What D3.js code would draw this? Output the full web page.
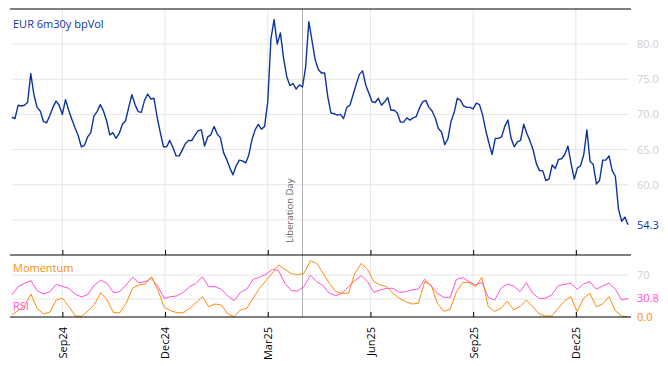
<!DOCTYPE html>
<html>
<head>
<meta charset="utf-8">
<script src="https://d3js.org/d3.v7.min.js"></script>
<style>
  body { margin: 0; background: #fff; }
  svg { display: block; font-family: "Open Sans", sans-serif; }
</style>
</head>
<body>
<script>
// EUR 6m30y normal vol (bp), one value every 2 business days from 18 Jul 2024
var volValues = [
  69.6, 69.4, 71.3, 71.2, 71.3, 71.7, 75.8, 72.8, 71.0, 70.5,
  69.0, 68.8, 69.8, 71.0, 71.9, 71.3, 70.0, 72.1, 70.6, 69.3,
  68.1, 67.0, 65.4, 65.6, 66.8, 67.4, 69.8, 70.4, 71.4, 70.5,
  69.1, 67.1, 67.4, 66.6, 67.3, 68.6, 69.1, 71.0, 72.8, 71.4,
  70.4, 70.3, 72.0, 72.9, 72.2, 72.3, 69.6, 67.4, 65.4, 65.4,
  66.3, 65.3, 64.1, 64.1, 65.0, 65.9, 66.3, 66.3, 67.1, 67.7,
  67.8, 65.5, 66.8, 67.1, 68.3, 67.2, 66.7, 64.6, 63.6, 62.4,
  61.4, 62.7, 63.5, 63.4, 63.1, 64.2, 66.4, 67.8, 68.6, 67.9,
  68.3, 71.8, 80.7, 83.5, 80.0, 81.6, 78.0, 75.4, 74.1, 74.4,
  73.6, 74.2, 73.9, 76.8, 83.2, 80.5, 77.8, 76.4, 75.9, 75.9,
  72.5, 70.2, 70.1, 69.9, 70.0, 69.4, 71.0, 71.3, 72.8, 74.3,
  75.7, 76.2, 74.2, 73.0, 71.8, 71.7, 72.3, 71.3, 71.8, 72.4,
  70.6, 70.6, 70.2, 68.9, 68.9, 69.5, 69.2, 69.5, 69.7, 70.9,
  71.8, 72.0, 71.0, 70.5, 69.5, 68.0, 67.5, 65.7, 66.5, 69.0,
  70.3, 72.3, 72.0, 71.2, 71.0, 71.0, 70.8, 71.6, 71.4, 69.9,
  67.7, 65.9, 64.3, 66.6, 66.6, 66.8, 68.3, 69.2, 66.6, 65.4,
  66.1, 66.3, 68.6, 67.3, 66.2, 64.9, 63.0, 62.0, 62.0, 60.6,
  60.8, 62.8, 62.3, 63.6, 63.7, 64.3, 65.5, 63.0, 60.8, 62.4,
  62.7, 64.3, 67.8, 63.3, 62.9, 60.1, 60.6, 63.5, 63.5, 64.1,
  62.0, 61.2, 56.5, 54.8, 55.4, 54.3
];

// RSI and momentum, spread evenly over the same period
var rsiValues = [
  36.7, 50.6, 56.1, 60.6, 43.9, 38.3, 42.2, 54.4, 50.6, 47.8,
  37.8, 33.3, 37.8, 53.3, 61.1, 56.1, 40.6, 42.2, 53.3, 66.1,
  57.2, 58.9, 64.4, 50.6, 31.1, 33.9, 35.0, 41.1, 50.6, 56.1,
  67.2, 50.6, 50.6, 46.1, 35.0, 27.2, 41.1, 46.7, 62.8, 66.1,
  71.1, 79.4, 77.2, 56.1, 43.9, 43.3, 50.6, 70.0, 58.9, 52.2,
  39.4, 35.6, 39.4, 50.6, 60.6, 68.9, 58.9, 41.1, 45.0, 47.8,
  47.8, 41.1, 42.2, 45.0, 46.7, 62.8, 51.7, 39.4, 32.8, 32.8,
  62.8, 65.6, 58.9, 53.3, 57.8, 32.8, 28.3, 47.8, 55.0, 51.7,
  42.2, 57.2, 39.4, 31.1, 31.1, 36.7, 52.2, 54.4, 56.1, 46.1,
  55.0, 58.9, 46.1, 51.7, 56.1, 46.1, 28.3, 30.8
];
var momValues = [
  3.3, 10.6, 18.3, 38.3, 14.4, 5.0, 8.3, 28.3, 31.1, 17.2,
  1.7, 1.1, 10.0, 21.1, 40.6, 28.3, 7.2, 7.2, 22.8, 47.8,
  53.3, 55.0, 67.2, 45.0, 16.1, 10.6, 7.2, 7.2, 14.4, 23.9,
  33.9, 17.2, 21.7, 20.0, 5.0, 0.6, 11.7, 14.4, 31.7, 47.8,
  60.6, 72.8, 86.7, 79.4, 72.2, 70.6, 72.8, 93.9, 89.4, 72.8,
  56.1, 42.2, 39.4, 39.4, 72.8, 89.4, 79.4, 58.9, 53.3, 50.6,
  39.4, 31.1, 25.6, 21.7, 22.8, 58.9, 53.3, 22.8, 9.4, 12.8,
  42.2, 57.8, 57.2, 50.6, 66.1, 17.2, 9.4, 14.4, 26.7, 11.7,
  17.2, 28.3, 17.2, 5.0, 1.7, 1.7, 14.4, 26.7, 33.9, 8.9,
  31.1, 39.4, 17.2, 21.7, 33.9, 10.6, 1.7, 0.0
];

var startDate = '2024-07-18';
var tickLabels = ['Sep24', 'Dec24', 'Mar25', 'Jun25', 'Sep25', 'Dec25'];
var tickMonths = ['2024-09-01', '2024-12-01', '2025-03-01', '2025-06-01', '2025-09-01', '2025-12-01'];
var volTicks = [55, 60, 65, 70, 75, 80];
var volLabelTicks = [60, 65, 70, 75, 80];   // 55.0 sits under the last value
var oscTicks = [30, 70];
var oscLabelTicks = [70];                   // 30 sits under the RSI last value
var eventDate = '2025-04-02', eventLabel = 'Liberation Day';

var width = 668, height = 366;
var left = 10, right = 631;
var blue = '#0b34a0', orange = '#ff8c0a', pink = '#ff4fd8', lightGrey = '#cfcfcf', grid = '#e6e6e6';

var parse = d3.timeParse('%Y-%m-%d');

// business-day calendar: the x axis skips weekends
var nDays = (volValues.length - 1) * 2;
var days = [];
var d = parse(startDate);
while (days.length <= nDays) {
  if (d.getDay() !== 0 && d.getDay() !== 6) days.push(d);
  d = d3.timeDay.offset(d, 1);
}
function dayIndex(s) { return d3.bisectLeft(days, parse(s)); }

var x = d3.scaleLinear().domain([0, nDays]).range([11.8, 628]);
var yVol = d3.scaleLinear().domain([50, 85]).range([255, 9]);
var yOsc = d3.scaleLinear().domain([0, 103.3]).range([317, 255]);

var tickIdx = tickMonths.map(dayIndex);

var svg = d3.select('body').append('svg')
  .attr('width', width)
  .attr('height', height);

// gridlines
svg.append('g').selectAll('line')
  .data(volTicks)
  .join('line')
    .attr('x1', 12).attr('x2', 629)
    .attr('y1', function (v) { return yVol(v); })
    .attr('y2', function (v) { return yVol(v); })
    .attr('stroke', grid);
svg.append('g').selectAll('line')
  .data(oscTicks)
  .join('line')
    .attr('x1', 12).attr('x2', 629)
    .attr('y1', function (v) { return yOsc(v); })
    .attr('y2', function (v) { return yOsc(v); })
    .attr('stroke', grid);
svg.append('g').selectAll('line')
  .data(tickIdx)
  .join('line')
    .attr('x1', function (i) { return x(i); })
    .attr('x2', function (i) { return x(i); })
    .attr('y1', 9).attr('y2', 317)
    .attr('stroke', grid);

// event marker
var ex = x(dayIndex(eventDate));
svg.append('line')
  .attr('x1', ex).attr('x2', ex)
  .attr('y1', 9).attr('y2', 317)
  .attr('stroke', '#b0b0b0');
svg.append('text')
  .attr('transform', 'translate(' + (ex - 13) + ',243) rotate(-90)')
  .attr('dy', '0.35em')
  .style('font-size', '9.5px')
  .attr('fill', '#666')
  .text(eventLabel);

// series
var volLine = d3.line()
  .x(function (v, i) { return x(i * 2); })
  .y(function (v) { return yVol(v); });
var oscStep = nDays / (rsiValues.length - 1);
var oscLine = d3.line()
  .x(function (v, i) { return x(i * oscStep); })
  .y(function (v) { return yOsc(v); });

svg.append('path').datum(volValues)
  .attr('d', volLine)
  .attr('fill', 'none').attr('stroke', blue).attr('stroke-width', 1.4)
  .attr('stroke-linejoin', 'round');
svg.append('path').datum(rsiValues)
  .attr('d', oscLine)
  .attr('fill', 'none').attr('stroke', pink).attr('stroke-width', 1);
svg.append('path').datum(momValues)
  .attr('d', oscLine)
  .attr('fill', 'none').attr('stroke', orange).attr('stroke-width', 1);

// frame lines
[9, 255, 317].forEach(function (yy) {
  svg.append('line')
    .attr('x1', left).attr('x2', right)
    .attr('y1', yy).attr('y2', yy)
    .attr('stroke', '#000');
});

// x axes: inward ticks on both panels, labels under the lower one
function xAxis(y0, withLabels) {
  var ax = d3.axisBottom(x)
    .tickValues(tickIdx)
    .tickSizeInner(-5).tickSizeOuter(0)
    .tickFormat(function (v, i) { return withLabels ? tickLabels[i] : ''; });
  var g = svg.append('g').attr('transform', 'translate(0,' + y0 + ')').call(ax);
  g.select('.domain').remove();
  g.selectAll('line').attr('stroke', '#000');
  g.selectAll('text')
    .attr('transform', 'rotate(-90)')
    .attr('text-anchor', 'end')
    .attr('x', -10).attr('y', 0).attr('dy', '0.35em')
    .attr('fill', '#000')
    .style('font-family', '"Open Sans", sans-serif')
    .style('font-size', '11px');
}
xAxis(255, false);
xAxis(317, true);

// right-hand value labels
function yAxis(scale, ticks, fmt) {
  var g = svg.append('g').attr('transform', 'translate(631,0)')
    .call(d3.axisRight(scale).tickValues(ticks).tickSize(0).tickPadding(6).tickFormat(fmt));
  g.select('.domain').remove();
  g.selectAll('text')
    .attr('fill', lightGrey)
    .style('font-family', '"Open Sans", sans-serif')
    .style('font-size', '11px');
}
yAxis(yVol, volLabelTicks, d3.format('.1f'));
yAxis(yOsc, oscLabelTicks, d3.format('d'));

// last values
var lastLabels = [
  { y: yVol(volValues[volValues.length - 1]), text: d3.format('.1f')(volValues[volValues.length - 1]), color: blue },
  { y: yOsc(rsiValues[rsiValues.length - 1]), text: d3.format('.1f')(rsiValues[rsiValues.length - 1]), color: pink },
  { y: yOsc(momValues[momValues.length - 1]), text: d3.format('.1f')(momValues[momValues.length - 1]), color: orange }
];
svg.append('g').selectAll('text')
  .data(lastLabels)
  .join('text')
    .attr('x', 637)
    .attr('y', function (l) { return l.y; })
    .attr('dy', '0.35em')
    .attr('fill', function (l) { return l.color; })
    .style('font-size', '11px')
    .text(function (l) { return l.text; });

// series names
svg.append('text').attr('x', 13).attr('y', 28)
  .attr('fill', blue).style('font-size', '11px').text('EUR 6m30y bpVol');
svg.append('text').attr('x', 13).attr('y', 272)
  .attr('fill', orange).style('font-size', '11px').text('Momentum');
svg.append('text').attr('x', 13).attr('y', 310)
  .attr('fill', pink).style('font-size', '11px').text('RSI');
</script>
</body>
</html>
